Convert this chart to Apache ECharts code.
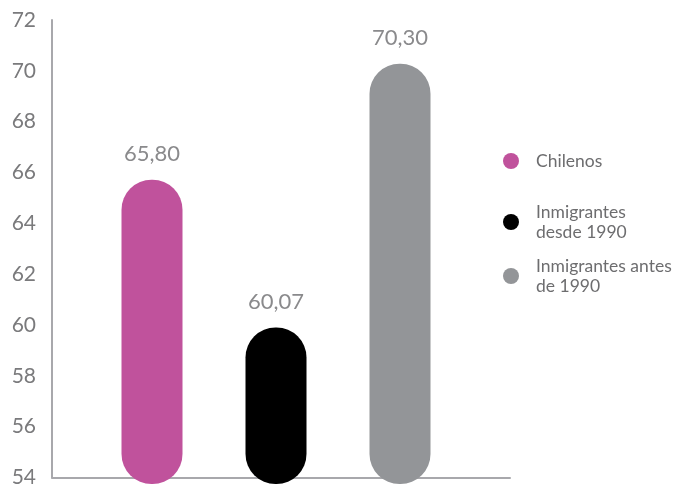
<!DOCTYPE html>
<html>
<head>
<meta charset="utf-8">
<script src="https://cdn.jsdelivr.net/npm/echarts@6/dist/echarts.min.js"></script>
<style>
  html, body { margin: 0; padding: 0; background: #fff; }
  #chart { width: 684px; height: 488px; }
</style>
</head>
<body>
<div id="chart"></div>
<script>
// Groups and their values
const categories = ['Chilenos', 'Inmigrantes desde 1990', 'Inmigrantes antes de 1990'];
const legendLabels = ['Chilenos', 'Inmigrantes\ndesde 1990', 'Inmigrantes antes\nde 1990'];
const values = [65.80, 60.07, 70.30];
const colors = ['#c0529c', '#000000', '#939598'];

// Value axis range
const yMin = 54;
const yMax = 72;
const yStep = 2;

const FONT = 'Lato';
const fmt = v => v.toFixed(2).replace('.', ',');

// One series per group, overlapping on the shared category axis
const series = categories.map((name, i) => ({
  name: name,
  type: 'bar',
  xAxisIndex: 1,
  yAxisIndex: 1,
  barWidth: 61,
  barGap: '-100%',
  data: categories.map((c, j) => (j === i ? values[i] : null)),
  itemStyle: { color: colors[i], borderRadius: 30 },
  label: {
    show: true,
    position: 'top',
    distance: 15,
    color: '#8a8a8c',
    fontFamily: FONT,
    fontSize: 22,
    formatter: p => fmt(p.value)
  }
}));

const legendTops = [151, 202, 256];
const legends = categories.map((name, i) => ({
  data: [{ name: name, icon: 'circle' }],
  left: 503,
  top: legendTops[i],
  padding: 0,
  itemWidth: 16,
  itemHeight: 16,
  itemGap: 0,
  selectedMode: false,
  formatter: () => legendLabels[i],
  textStyle: {
    color: '#6d6d6f',
    fontFamily: FONT,
    fontSize: 17.5,
    lineHeight: 20,
    padding: [0, 0, 0, 12]
  }
}));

const chart = echarts.init(document.getElementById('chart'), null, { renderer: 'canvas' });
chart.setOption({
  backgroundColor: '#ffffff',
  animation: false,
  legend: legends,
  grid: [
    { left: 52, right: 174, top: 20, bottom: 4 },
    { left: 90, right: 222, top: 20, bottom: 4 }
  ],
  xAxis: [
    {
      gridIndex: 0,
      type: 'value',
      min: 0,
      max: 1,
      axisLine: { show: true, lineStyle: { color: '#a8a8ac', width: 2 } },
      axisTick: { show: false },
      axisLabel: { show: false },
      splitLine: { show: false }
    },
    {
      gridIndex: 1,
      type: 'category',
      data: categories,
      axisLine: { show: false },
      axisTick: { show: false },
      axisLabel: { show: false },
      splitLine: { show: false }
    }
  ],
  yAxis: [
    {
      gridIndex: 0,
      type: 'value',
      min: yMin,
      max: yMax,
      interval: yStep,
      axisLine: { show: true, lineStyle: { color: '#a8a8ac', width: 2 } },
      axisTick: { show: false },
      splitLine: { show: false },
      axisLabel: {
        color: '#7a7a7c',
        fontFamily: FONT,
        fontSize: 21,
        margin: 16
      }
    },
    {
      gridIndex: 1,
      type: 'value',
      min: yMin,
      max: yMax,
      interval: yStep,
      show: false
    }
  ],
  series: series
});
</script>
</body>
</html>
